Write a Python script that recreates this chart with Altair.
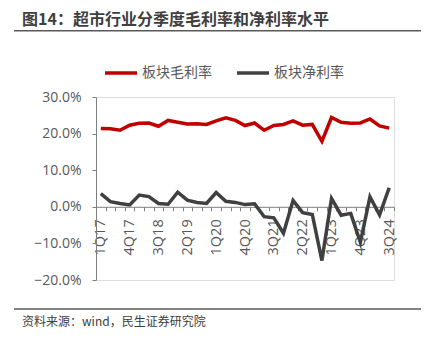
import json
import altair as alt
import pandas as pd

quarters = ["1Q17", "2Q17", "3Q17", "4Q17", "1Q18", "2Q18", "3Q18", "4Q18",
            "1Q19", "2Q19", "3Q19", "4Q19", "1Q20", "2Q20", "3Q20", "4Q20",
            "1Q21", "2Q21", "3Q21", "4Q21", "1Q22", "2Q22", "3Q22", "4Q22",
            "1Q23", "2Q23", "3Q23", "4Q23", "1Q24", "2Q24", "3Q24"]
gross = [21.4, 21.3, 20.9, 22.3, 22.8, 22.9, 22.0, 23.6, 23.1, 22.6, 22.7, 22.5,
         23.5, 24.3, 23.6, 22.2, 22.9, 20.9, 22.2, 22.5, 23.5, 22.3, 22.5, 17.9,
         24.4, 23.1, 22.8, 22.9, 24.0, 22.1, 21.5]
net = [3.6, 1.4, 0.9, 0.5, 3.2, 2.8, 0.9, 0.7, 4.0, 1.8, 1.2, 0.9,
       3.9, 1.5, 1.2, 0.6, 0.8, -2.7, -3.0, -7.2, 1.7, -1.6, -2.1, -14.7,
       2.3, -2.3, -1.8, -9.7, 2.7, -2.2, 5.2]
series_names = ["板块毛利率", "板块净利率"]
series_colors = ["#C00000", "#404040"]
y_ticks = [-20, -10, 0, 10, 20, 30]
title_text = "图14：超市行业分季度毛利率和净利率水平"
source_text = "资料来源：wind，民生证券研究院"

rows = []
for i, q in enumerate(quarters):
    rows.append({"quarter": q, "series": series_names[0], "value": gross[i]})
    rows.append({"quarter": q, "series": series_names[1], "value": net[i]})
df = pd.DataFrame(rows)

W, H = 298, 183
ymin, ymax = -20, 30
zero_offset = -H * (0 - ymin) / (ymax - ymin)

FONT = "Noto Sans CJK SC"
NUM_FONT = "Open Sans"
LABEL_COLOR = "#595959"
AXIS_COLOR = "#7f7f7f"

label_expr = "indexof(%s, datum.value) %% 3 == 0 ? datum.label : ''" % json.dumps(quarters)

lines = alt.Chart(df).mark_line(strokeWidth=3.5, strokeJoin="miter").encode(
    x=alt.X("quarter:O", sort=quarters, title=None,
            scale=alt.Scale(type="band", paddingInner=0, paddingOuter=0),
            axis=alt.Axis(tickBand="extent", labelExpr=label_expr, labelAngle=-90,
                          offset=zero_offset, tickSize=4, labelPadding=8,
                          domainColor=AXIS_COLOR, tickColor=AXIS_COLOR,
                          labelColor=LABEL_COLOR, labelFont=NUM_FONT, labelFontSize=14.5,
                          grid=False, labelOverlap=False)),
    y=alt.Y("value:Q", title=None,
            scale=alt.Scale(domain=[ymin, ymax], nice=False),
            axis=alt.Axis(values=y_ticks, labelExpr="format(datum.value, '.1f') + '%'",
                          tickSize=4, labelPadding=11, grid=False,
                          domainColor=AXIS_COLOR, tickColor=AXIS_COLOR,
                          labelColor=LABEL_COLOR, labelFont=NUM_FONT, labelFontSize=14)),
    color=alt.Color("series:N", sort=series_names,
                    scale=alt.Scale(domain=series_names, range=series_colors),
                    legend=alt.Legend(title=None, orient="none", direction="horizontal",
                                      legendX=7, legendY=-42, symbolType="stroke",
                                      symbolSize=1024, symbolStrokeWidth=3.5,
                                      labelFont=FONT, labelFontSize=14,
                                      labelColor=LABEL_COLOR, columnPadding=18,
                                      labelOffset=3)),
)

one = alt.Data(values=[{}])
title = alt.Chart(one).mark_text(text=title_text, font=FONT, fontSize=16, fontWeight="bold",
                                 color="#404040", align="left", baseline="middle").encode(
    x=alt.value(22 - 96), y=alt.value(20 - 97))
top_rule = alt.Chart(one).mark_rule(color="#595959", strokeWidth=1.5).encode(
    x=alt.value(14 - 96), x2=alt.value(421 - 96), y=alt.value(30.7 - 97))
bottom_rule = alt.Chart(one).mark_rule(color="#595959", strokeWidth=1.5).encode(
    x=alt.value(14 - 96), x2=alt.value(421 - 96), y=alt.value(309 - 97))
source = alt.Chart(one).mark_text(text=source_text, font=FONT, fontSize=12,
                                  color="#404040", align="left", baseline="middle").encode(
    x=alt.value(22 - 96), y=alt.value(322 - 97))

chart = alt.layer(lines, title, top_rule, bottom_rule, source).properties(
    width=W, height=H,
    padding={"left": 96, "top": 97, "right": 433 - 96 - W, "bottom": 342 - 97 - H},
    autosize="none",
).configure_view(stroke=None).configure(background="white")

chart.save("out.html", embed_options={"renderer": "svg", "actions": False})
